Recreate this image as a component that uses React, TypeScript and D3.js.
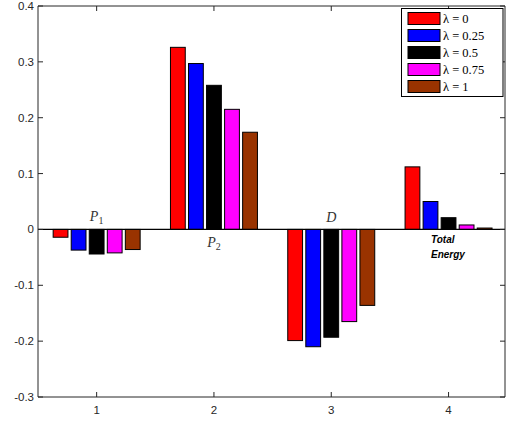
import React from "react";
import * as d3 from "d3";

const categories = [1, 2, 3, 4];
const seriesNames = ["λ = 0", "λ = 0.25", "λ = 0.5", "λ = 0.75", "λ = 1"];
const seriesColors = ["#ff0000", "#0000ff", "#000000", "#ff00ff", "#993300"];
const lambda0 = [-0.014, 0.326, -0.199, 0.112];
const lambda025 = [-0.037, 0.297, -0.21, 0.05];
const lambda05 = [-0.044, 0.258, -0.193, 0.021];
const lambda075 = [-0.042, 0.215, -0.165, 0.008];
const lambda1 = [-0.036, 0.174, -0.136, 0.0025];
const series = [lambda0, lambda025, lambda05, lambda075, lambda1];
const xTicks = [1, 2, 3, 4];
const yTicks = [-0.3, -0.2, -0.1, 0, 0.1, 0.2, 0.3, 0.4];
const yTickLabels = ["-0.3", "-0.2", "-0.1", "0", "0.1", "0.2", "0.3", "0.4"];

const W = 506;
const H = 423;
const left = 38;
const right = 505;
const top = 6;
const bottom = 397;

export default function App() {
  const x = d3.scaleLinear().domain([0.5, 4.5]).range([left, left + 4 * 117.3]);
  const y = d3.scaleLinear().domain([-0.3, 0.4]).range([bottom, top]);
  const n = series.length;
  const groupW = Math.min(0.8, n / (n + 1.5));
  const step = groupW / n;
  const barW = step * 0.82;
  const axisColor = "#262626";
  const sans = "'Liberation Sans', Arial, sans-serif";
  const serif = "'Liberation Serif', 'Times New Roman', serif";

  return (
    <svg width={W} height={H} style={{ position: "absolute", left: 0, top: 0, background: "#fff" }}>
      <rect x={0} y={0} width={W} height={H} fill="#fff" />
      {series.map((vals, si) =>
        vals.map((v, ci) => {
          const cx = x(categories[ci]) + (si - (n - 1) / 2) * step * (x(1) - x(0));
          const bw = barW * (x(1) - x(0));
          const y0 = y(0);
          const y1 = y(v);
          return (
            <rect
              key={`${si}-${ci}`}
              x={cx - bw / 2}
              y={Math.min(y0, y1)}
              width={bw}
              height={Math.abs(y1 - y0)}
              fill={seriesColors[si]}
              stroke="#000"
              strokeWidth={1}
            />
          );
        })
      )}
      <line x1={left} x2={right} y1={y(0)} y2={y(0)} stroke="#000" strokeWidth={1.2} />
      <line x1={left} x2={right} y1={bottom} y2={bottom} stroke={axisColor} strokeWidth={1} />
      <line x1={left} x2={right} y1={top} y2={top} stroke={axisColor} strokeWidth={1} />
      <line x1={left} x2={left} y1={top} y2={bottom} stroke={axisColor} strokeWidth={1} />
      <line x1={right} x2={right} y1={top} y2={bottom} stroke={axisColor} strokeWidth={1} />
      {xTicks.map((t) => (
        <g key={`xt${t}`}>
          <line x1={x(t)} x2={x(t)} y1={bottom} y2={bottom - 5} stroke={axisColor} />
          <line x1={x(t)} x2={x(t)} y1={top} y2={top + 5} stroke={axisColor} />
          <text x={x(t)} y={bottom + 17} textAnchor="middle" fontFamily={sans} fontSize={11.5} fill={axisColor}>
            {t}
          </text>
        </g>
      ))}
      {yTicks.map((t, i) => (
        <g key={`yt${t}`}>
          <line x1={left} x2={left + 5} y1={y(t)} y2={y(t)} stroke={axisColor} />
          <line x1={right} x2={right - 5} y1={y(t)} y2={y(t)} stroke={axisColor} />
          <text x={left - 4} y={y(t) + 4} textAnchor="end" fontFamily={sans} fontSize={11.5} fill={axisColor}>
            {yTickLabels[i]}
          </text>
        </g>
      ))}
      <text x={x(1)} y={y(0) - 8} textAnchor="middle" fontFamily={serif} fontStyle="italic" fontSize={14} fill="#333">
        P<tspan dy={3} fontSize={10} fontStyle="normal">1</tspan>
      </text>
      <text x={x(2)} y={y(0) + 18} textAnchor="middle" fontFamily={serif} fontStyle="italic" fontSize={14} fill="#333">
        P<tspan dy={3} fontSize={10} fontStyle="normal">2</tspan>
      </text>
      <text x={x(3)} y={y(0) - 7} textAnchor="middle" fontFamily={serif} fontStyle="italic" fontSize={14} fill="#333">
        D
      </text>
      <text x={431} y={y(0) + 14} fontFamily={sans} fontStyle="italic" fontWeight="bold" fontSize={10} fill="#000">
        Total
      </text>
      <text x={431} y={y(0) + 29} fontFamily={sans} fontStyle="italic" fontWeight="bold" fontSize={10} fill="#000">
        Energy
      </text>
      <rect x={401.5} y={8.5} width={101.5} height={88} fill="#fff" stroke="#000" strokeWidth={1} />
      {seriesNames.map((name, i) => {
        const cy = 18.5 + i * 17;
        return (
          <g key={name}>
            <rect x={408} y={cy - 6} width={32} height={12} fill={seriesColors[i]} stroke="#000" strokeWidth={1} />
            <text x={443} y={cy + 4.5} fontFamily={serif} fontSize={12.5} fill="#000">
              {name}
            </text>
          </g>
        );
      })}
    </svg>
  );
}
